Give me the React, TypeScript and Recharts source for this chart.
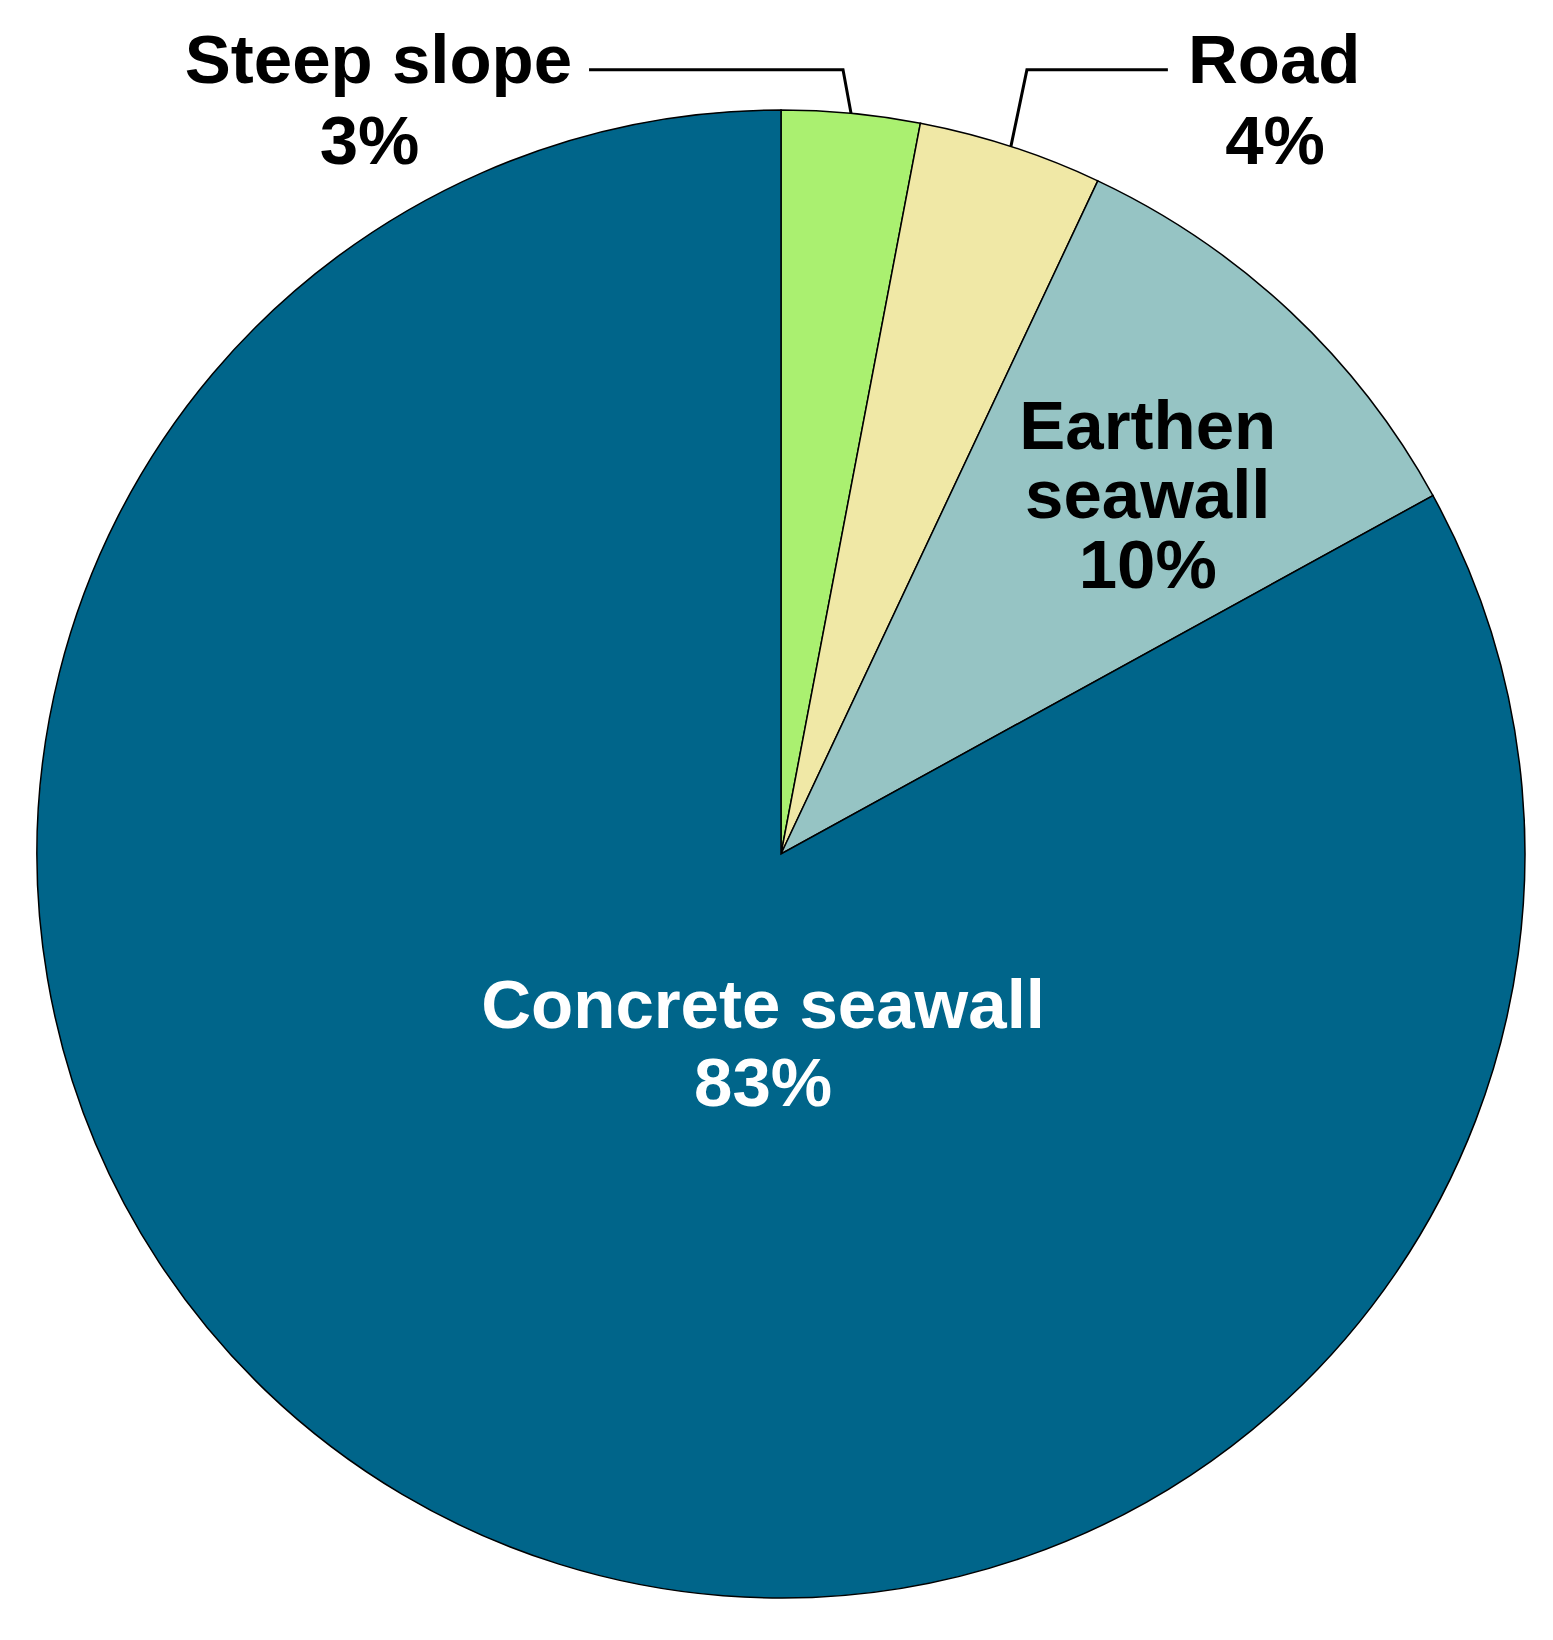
import { PieChart, Pie, Cell } from "recharts";

const categories = ["Steep slope", "Road", "Earthen seawall", "Concrete seawall"];
const shares = [3, 4, 10, 83];
const sliceColors = ["#AAF070", "#F0E8A6", "#96C4C4", "#00658A"];
// how each label is broken into lines
const labelLines = [["Steep slope"], ["Road"], ["Earthen", "seawall"], ["Concrete seawall"]];

const data = categories.map((name, i) => ({ name, value: shares[i] }));

const RAD = Math.PI / 180;
const FONT = "'Liberation Sans', Arial, sans-serif";

// label placement, in units of the pie radius relative to its centre
const layout = [
  { x: [-0.541, -0.553], y: -1.036, step: 0.108, fill: "#000", leader: { dx: -8, endX: -0.258 } },
  { x: [0.663, 0.664], y: -1.036, step: 0.108, fill: "#000", leader: { dx: 16, endX: 0.52 } },
  { x: [0.493], y: -0.544, step: 0.093, fill: "#000", leader: null },
  { x: [-0.024], y: 0.234, step: 0.105, fill: "#fff", leader: null },
];

function renderLabel(props: any) {
  const { cx, cy, midAngle, outerRadius: r, index } = props;
  const cfg = layout[index];
  const lines = [...labelLines[index], `${shares[index]}%`];
  const ex = cx + r * Math.cos(-midAngle * RAD);
  const ey = cy + r * Math.sin(-midAngle * RAD);
  const elbowY = cy - 1.054 * r;
  return (
    <g key={`lbl-${index}`}>
      {cfg.leader && (
        <polyline
          points={`${ex},${ey} ${ex + cfg.leader.dx},${elbowY} ${cx + cfg.leader.endX * r},${elbowY}`}
          fill="none"
          stroke="#000"
          strokeWidth={3}
        />
      )}
      {lines.map((t, i) => (
        <text
          key={i}
          x={cx + (cfg.x[i] ?? cfg.x[0]) * r}
          y={cy + (cfg.y + i * cfg.step) * r}
          textAnchor="middle"
          fill={cfg.fill}
          style={{ fontFamily: FONT, fontWeight: "bold", fontSize: 69 }}
        >
          {t}
        </text>
      ))}
    </g>
  );
}

export default function App() {
  return (
    <div style={{ position: "absolute", left: 0, top: 0, background: "#fff" }}>
      <PieChart width={1553} height={1640}>
        <Pie
          data={data}
          dataKey="value"
          nameKey="name"
          cx={776}
          cy={849}
          outerRadius={744}
          startAngle={90}
          endAngle={-270}
          stroke="#000"
          strokeWidth={1.5}
          label={renderLabel}
          labelLine={false}
          isAnimationActive={false}
        >
          {data.map((d, i) => (
            <Cell key={d.name} fill={sliceColors[i]} />
          ))}
        </Pie>
      </PieChart>
    </div>
  );
}
